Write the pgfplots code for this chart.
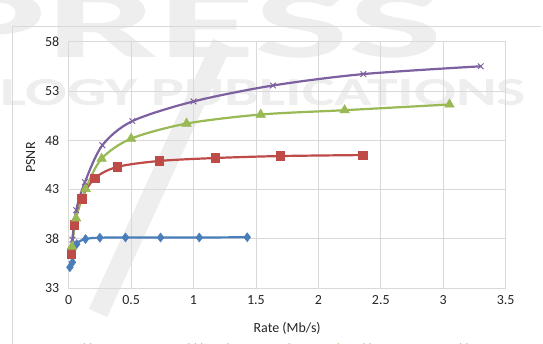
\documentclass[border=0pt]{standalone}
\usepackage{pgfplots}
\pgfplotsset{compat=1.18}
\usepackage{fontspec}
\setmainfont{Carlito}
\setsansfont{Carlito}
\definecolor{cblue}{HTML}{4A7EBB}
\definecolor{cred}{HTML}{BE4B48}
\definecolor{cgreen}{HTML}{98B954}
\definecolor{cpurple}{HTML}{7D60A0}
\definecolor{gridc}{HTML}{D9D9D9}
\definecolor{wm}{HTML}{EEEEEE}
\begin{document}
\begin{tikzpicture}[x=1bp,y=1bp]
\useasboundingbox (0,0) rectangle (543,343);
\clip (0,0) rectangle (543,343);
\fill[white] (0,0) rectangle (543,343);
% watermark
\node[wm, font=\fontsize{100}{100}\selectfont\bfseries, anchor=base west, xscale=2, inner sep=0] at (-60,286) {PRESS};
\node[wm, font=\fontsize{40}{40}\selectfont\bfseries, anchor=base west, xscale=1.55, inner sep=0] at (0,238) {LOGY PUBLICATIONS};
\draw[wm, line width=20] (222,300) -- (98,30);
% outer border
\draw[gridc, line width=0.8] (12,-2) -- (12,317) -- (541,317);
\begin{axis}[
  at={(55,56)}, anchor=south west, scale only axis,
  width=437bp, height=246bp,
  xmin=0, xmax=3.5, ymin=33, ymax=58,
  xtick={0,0.5,1,1.5,2,2.5,3,3.5}, ytick={33,38,43,48,53,58},
  grid=major, grid style={gridc, line width=0.8bp},
  axis line style={gridc, line width=0.8bp},
  major tick length=0,
  /pgf/number format/assume math mode=true,
  /pgf/number format/1000 sep={},
  tick label style={font=\fontsize{14}{14}\selectfont, text=black!85},
  xticklabel style={yshift=-4bp},
  yticklabel style={xshift=-6bp},
  label style={font=\fontsize{14}{14}\selectfont, text=black!85},
  xlabel={Rate (Mb/s)}, ylabel={PSNR},
  xlabel style={at={(axis description cs:0.5,-0.163)}, anchor=center},
  ylabel style={at={(axis description cs:-0.087,0.53)}, anchor=center, rotate=0},
  legend columns=4,
  legend style={draw=none, fill=none, at={(axis description cs:-0.045,-0.22)}, anchor=north west,
    font=\fontsize{12}{12}\selectfont, inner sep=0pt,
    /tikz/every even column/.append style={column sep=36bp}},
  every axis plot/.append style={line width=2.2bp, smooth, tension=0.5},
]
\addplot[cblue, mark=diamond*, mark size=4.5bp, mark options={solid, line width=0.5bp}] coordinates {
(0.01,35.1) (0.03,35.6) (0.065,37.45) (0.135,37.97) (0.25,38.1) (0.455,38.13) (0.736,38.12) (1.046,38.12) (1.43,38.15)};
\addlegendentry{Cobl-DCC}
\addplot[cred, mark=square*, mark size=4.3bp, mark options={solid, line width=0.5bp}] coordinates {
(0.02,36.5) (0.046,39.4) (0.103,42.05) (0.21,44.15) (0.39,45.3) (0.726,45.9) (1.174,46.2) (1.695,46.4) (2.354,46.5)};
\addlegendentry{Cobl-based compressed}
\addplot[cgreen, mark=triangle*, mark size=5.5bp, mark options={solid, line width=0.5bp}] coordinates {
(0.026,37.2) (0.059,40.07) (0.136,43.07) (0.264,46.13) (0.5,48.17) (0.944,49.7) (1.538,50.62) (2.21,51.06) (3.05,51.64)};
\addlegendentry{Cobl-SV}
\addplot[cpurple, mark=x, mark size=4bp, mark options={solid, line width=1bp}] coordinates {
(0.03,37.9) (0.06,40.9) (0.13,43.75) (0.27,47.5) (0.51,49.95) (1.0,51.95) (1.636,53.57) (2.36,54.73) (3.30,55.52)};
\addlegendentry{Cobl-SVt}
\end{axis}
\end{tikzpicture}
\end{document}
